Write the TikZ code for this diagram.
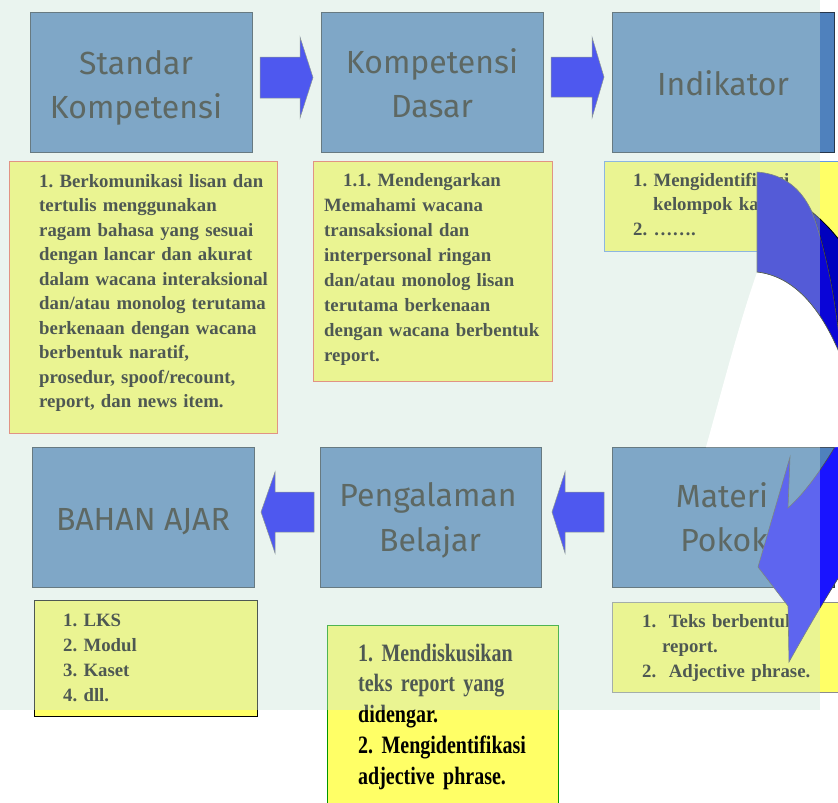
\documentclass[tikz,border=0pt]{standalone}
\usepackage{fontspec}
\setmainfont{Liberation Serif}
\newfontfamily\ttlfont{Fira Sans}
\newfontfamily\condfont[FakeStretch=0.8]{Liberation Serif}
\frenchspacing
\definecolor{boxblue}{RGB}{79,129,189}
\definecolor{boxline}{RGB}{40,55,75}
\definecolor{ylw}{RGB}{255,255,102}
\definecolor{arrblue}{RGB}{0,0,255}
\definecolor{cfronttop}{RGB}{10,5,215}
\definecolor{cfrontbot}{RGB}{25,20,255}
\definecolor{cback}{RGB}{0,0,190}
\definecolor{fadecol}{RGB}{203,229,216}
\definecolor{fadeblack}{RGB}{79,89,84}
\definecolor{salmon}{RGB}{240,96,80}
\definecolor{ltblue}{RGB}{102,153,230}
\definecolor{grn}{RGB}{0,150,0}
\begin{document}
\begin{tikzpicture}[x=1pt,y=-1pt,
  bluebox/.style={draw=boxline, fill=boxblue, line width=0.8pt, anchor=north west, inner sep=0pt, minimum width=222pt, minimum height=140pt},
  ybox/.style={fill=ylw, line width=0.8pt, anchor=north west, inner sep=0pt},
  ttl/.style={font=\ttlfont\fontsize{32}{38}\selectfont, anchor=base, inner sep=0pt, text=black!90},
  btxt/.style={font=\fontsize{18.8}{24.5}\selectfont\bfseries, anchor=base west, inner sep=0pt, align=left, text width=#1},
  btxt/.default=250pt,
  barrow/.style={fill=arrblue, draw=black!60, line width=0.5pt}
]
\useasboundingbox (0,0) rectangle (838,803);
\clip (0,0) rectangle (838,803);
\fill[white] (0,0) rectangle (838,803);

% ---- top row blue boxes
\node[bluebox] (sk) at (30,12) {};
\node[bluebox] (kd) at (321,12) {};
\node[bluebox] (ind) at (612,12) {};
\node[ttl] (sk1) at (136,74) {Standar};
\node[ttl] (sk2) at (136,118) {Kompetensi};
\node[ttl] (kd1) at (432,73) {Kompetensi};
\node[ttl] (kd2) at (432,117) {Dasar};
\node[ttl] (ind1) at (723,95) {Indikator};

% ---- bottom row blue boxes
\node[bluebox] (ba) at (32,447) {};
\node[bluebox, minimum width=221pt] (pb) at (320,447) {};
\node[bluebox] (mp) at (612,447) {};
\node[ttl] (ba1) at (143,530) {BAHAN AJAR};
\node[ttl] (pb1) at (428,506) {Pengalaman};
\node[ttl] (pb2) at (430,551) {Belajar};
\node[ttl] (mp1) at (722,507) {Materi};
\node[ttl] (mp2) at (724,551) {Pokok};

% ---- yellow boxes
\node[ybox, draw=salmon, minimum width=268pt, minimum height=272pt] (ylt) at (9,161) {};
\node[ybox, draw=salmon, minimum width=239pt, minimum height=220pt] (ymt) at (313,161) {};
\node[ybox, draw=ltblue, minimum width=260pt, minimum height=90pt] (yrt) at (604,161) {};
\node[ybox, draw=black, minimum width=223pt, minimum height=116pt] (ylb) at (34,600) {};
\node[ybox, draw=grn, minimum width=231pt, minimum height=220pt] (ymb) at (327,625) {};
\node[ybox, draw=black!45, minimum width=250pt, minimum height=90pt] (yrb) at (612,602) {};

\node[btxt=250pt] (tlt) at (39,187) {1. Berkomunikasi lisan dan\\
tertulis menggunakan\\
ragam bahasa yang sesuai\\
dengan lancar dan akurat\\
dalam wacana interaksional\\
dan/atau monolog terutama\\
berkenaan dengan wacana\\
berbentuk naratif,\\
prosedur, spoof/recount,\\
report, dan news item.};

\node[btxt=225pt, font=\fontsize{18.8}{25}\selectfont\bfseries] (tmt) at (324,186) {\hspace*{19pt}1.1. Mendengarkan\\
Memahami wacana\\
transaksional dan\\
interpersonal ringan\\
dan/atau monolog lisan\\
terutama berkenaan\\
dengan wacana berbentuk\\
report.};

\node[btxt=220pt] (trt) at (633,186) {1. Mengidentifikasi\\
\hspace*{20pt}kelompok kata\\
2. …….};

\node[btxt=200pt, font=\fontsize{18.8}{25}\selectfont\bfseries] (tlb) at (63,626) {1. LKS\\
2. Modul\\
3. Kaset\\
4. dll.};

\node[btxt=200pt, font=\condfont\fontsize{25}{30.75}\selectfont\bfseries] (tmb) at (358,661) {1. Mendiskusikan\\
teks report yang\\
didengar.\\
2. Mengidentifikasi\\
adjective phrase.};

\node[btxt=220pt, font=\fontsize{18.8}{25}\selectfont\bfseries] (trb) at (642,627) {1.\ \ Teks berbentuk\\
\hspace*{20pt}report.\\
2.\ \ Adjective phrase.};

% ---- straight block arrows
\filldraw[barrow] (260,57) -- (300,57) -- (300,37) -- (313,77.5) -- (300,118) -- (300,98) -- (260,98) -- cycle;
\filldraw[barrow] (551,57) -- (592,57) -- (592,37) -- (604,77) -- (592,118) -- (592,97) -- (551,97) -- cycle;
\filldraw[barrow] (314,492) -- (275,492) -- (275,472) -- (261,512) -- (275,553) -- (275,532) -- (314,532) -- cycle;
\filldraw[barrow] (604,492) -- (565,492) -- (565,472) -- (552,512) -- (565,553) -- (565,532) -- (604,532) -- cycle;

% ---- curved arrow
\filldraw[fill=cback, draw=black, line width=0.8pt] (812,212) .. controls (824,222) and (836,234) .. (850,255) -- (850,360) -- (841,357) .. controls (836,300) and (826,250) .. (812,212) -- cycle;
\filldraw[fill=cfronttop, draw=black!70, line width=0.6pt] (757,172) .. controls (785,174) and (802,190) .. (812,212) .. controls (826,250) and (836,300) .. (841,357) .. controls (820,305) and (792,276) .. (757,272) -- cycle;
\filldraw[fill=cfrontbot, draw=black!70, line width=0.6pt] (850,420) .. controls (830,458) and (808,490) .. (788,508) -- (790,457) -- (758,567) -- (788,606) -- (789,662) .. controls (808,628) and (830,590) .. (850,560) -- cycle;

% ---- faded layer
\fill[fadecol, opacity=0.39] (0,0) rectangle (820,710);

% ---- white inner region of the curve
\fill[white] (757,272.5) .. controls (792,276.5) and (820,305.5) .. (841,357.5) -- (841,447) -- (706,447) .. controls (722,390) and (740,320) .. (757,272.5) -- cycle;
\draw[fadeblack, line width=0.6pt] (757,272) .. controls (792,276) and (820,305) .. (841,357);
\end{tikzpicture}
\end{document}
